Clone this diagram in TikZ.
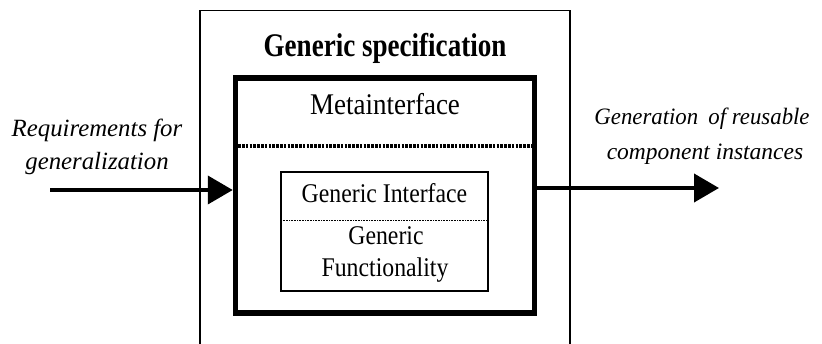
\documentclass[tikz,border=0pt]{standalone}
\usepackage{fontspec}
\setmainfont{Liberation Serif}
\usetikzlibrary{arrows.meta,calc}

% horizontally condensed text
\newcommand\narrowtext[2]{\scalebox{#1}[1]{#2}}

\tikzset{
  outerbox/.style={draw, line width=1.6pt, inner sep=0pt, minimum width=370pt, minimum height=349.5pt},
  specbox/.style={draw, line width=5.5pt, inner sep=0pt, minimum width=299pt, minimum height=235pt},
  corebox/.style={draw, line width=2pt, inner sep=0pt, minimum width=207pt, minimum height=119pt},
  title/.style={anchor=base, inner sep=0pt, font=\fontsize{33}{38}\selectfont\bfseries},
  meta/.style={anchor=base, inner sep=0pt, font=\fontsize{30}{36}\selectfont},
  coretext/.style={anchor=base, inner sep=0pt, font=\fontsize{27}{32}\selectfont},
  sidetext/.style={anchor=base, inner sep=0pt, font=\fontsize{23.5}{30}\selectfont\itshape},
  heavydots/.style={line width=3.5pt, dash pattern=on 2.6pt off 1.2pt},
  finedots/.style={line width=0.8pt, dash pattern=on 0.8pt off 0.8pt},
  flow/.style={line width=4pt, -{Triangle[length=25pt,width=28pt]}}
}

\begin{document}
\begin{tikzpicture}[x=1pt,y=-1pt]
  \clip (0,0) rectangle (822,344);

  % enclosing box, open at the bottom edge
  \node[outerbox] (outer) at (385,185.25) {};
  \node[title] (title) at (385,57) {\narrowtext{0.82}{Generic specification}};

  % thick specification box
  \node[specbox] (spec) at (385,195.5) {};
  \node[meta] (meta) at (385,115) {\narrowtext{0.9}{Metainterface}};
  \draw[heavydots] ($(spec.north west)+(5.5,70.75)$) -- ($(spec.north east)+(-5.5,70.75)$);

  % generic core box
  \node[corebox] (core) at (384.5,231.5) {};
  \node[coretext] (iface) at (384.5,203) {\narrowtext{0.88}{Generic Interface}};
  \draw[finedots] ($(core.north west)+(1,49)$) -- ($(core.north east)+(-1,49)$);
  \node[coretext] (funcA) at (386,245) {\narrowtext{0.88}{Generic}};
  \node[coretext] (funcB) at (385,277) {\narrowtext{0.88}{Functionality}};

  % input side
  \node[sidetext, font=\fontsize{24.8}{30}\selectfont\itshape] (reqA) at (97,137) {Requirements for};
  \node[sidetext, font=\fontsize{24.8}{30}\selectfont\itshape] (reqB) at (97,170) {generalization};
  \coordinate (inStart) at (50,190);
  \draw[flow] (inStart) -- (inStart -| spec.west);

  % output side
  \node[sidetext] (genA) at (702,125) {\narrowtext{0.97}{Generation\hspace{0.45em}of reusable}};
  \node[sidetext] (genB) at (705,160) {component instances};
  \coordinate (outEnd) at (719,188);
  \draw[flow] (outEnd -| spec.east) -- (outEnd);
\end{tikzpicture}
\end{document}
